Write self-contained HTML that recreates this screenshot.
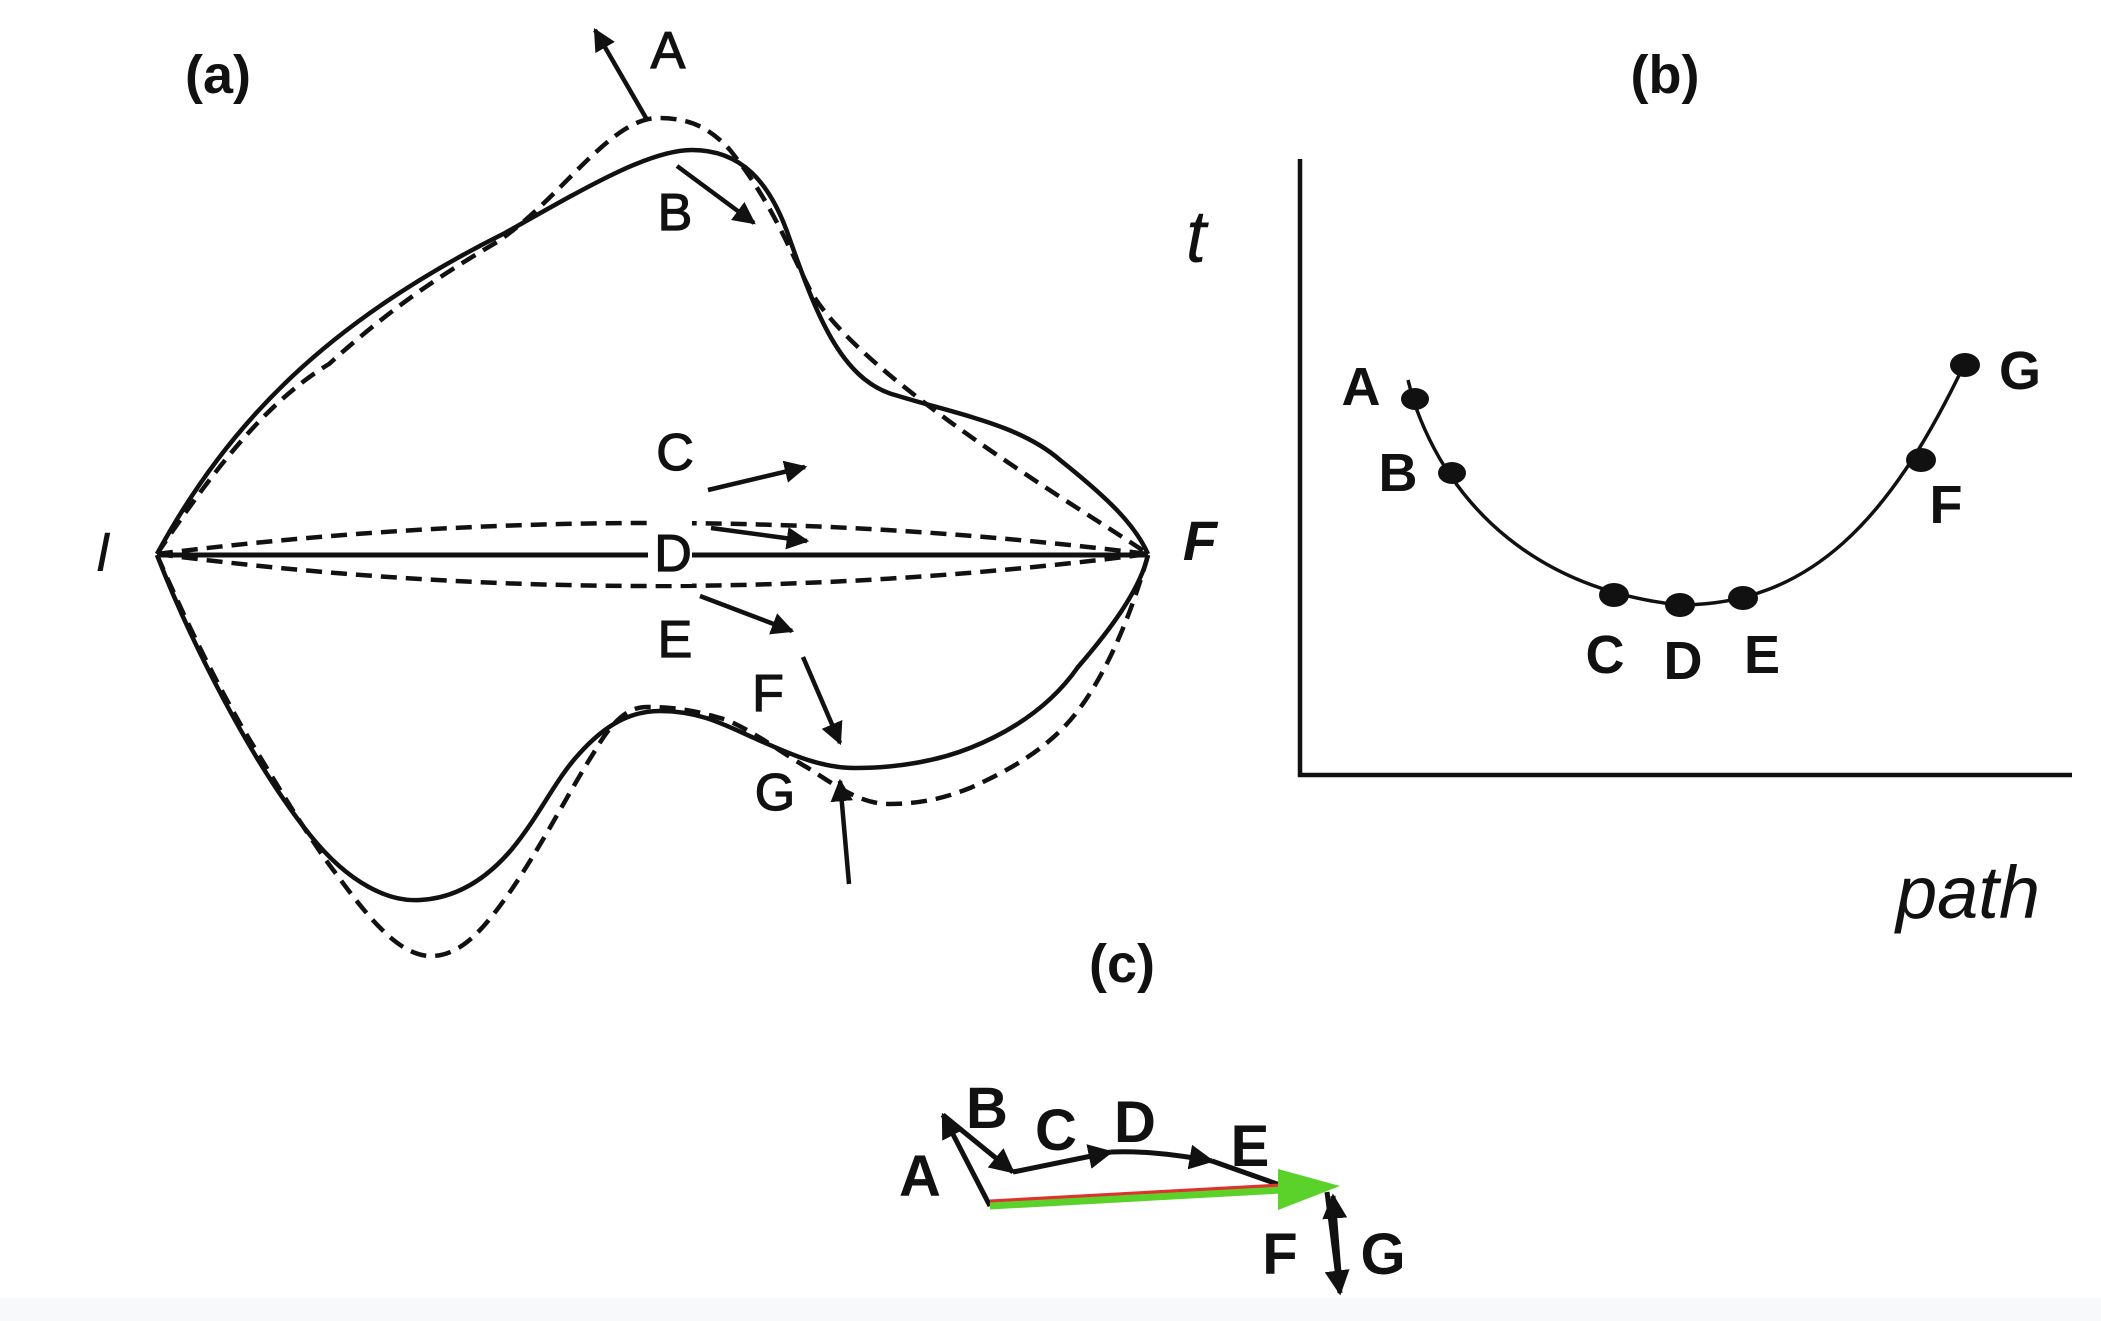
<!DOCTYPE html>
<html><head><meta charset="utf-8"><style>
html,body{margin:0;padding:0;background:#fff;}
svg{display:block;}
text{font-family:"Liberation Sans",Arial,sans-serif;fill:#111;}
</style></head><body>
<svg width="2101" height="1321" viewBox="0 0 2101 1321" xmlns="http://www.w3.org/2000/svg">
<defs>
<marker id="ah" viewBox="0 0 10 10" refX="9" refY="5" markerWidth="5" markerHeight="5" orient="auto-start-reverse"><path d="M0,0 L10,5 L0,10 z" fill="#111"/></marker>
</defs>
<rect x="0" y="1298" width="2101" height="23" fill="#f7f9fa"/>
<!-- Panel a -->
<text x="218" y="93" font-size="54" font-weight="bold" text-anchor="middle">(a)</text>
<text x="103" y="571" font-size="56" font-style="italic" text-anchor="middle">I</text>
<text x="1200" y="560" font-size="56" font-style="italic" font-weight="bold" text-anchor="middle">F</text>
<g fill="none" stroke="#111" stroke-width="4.5">
<path d="M157,554 C230,420 330,320 505,233 C590,185 650,150 692,150 C740,150 770,180 790,240 C815,310 840,380 895,395 C960,415 1020,425 1060,460 C1110,500 1135,525 1148,554"/>
<path d="M157,555 C190,640 250,760 310,835 C350,885 390,902 420,900 C460,898 490,875 512,849 C540,815 555,780 579,754 C605,725 630,711 660,711 C700,711 725,725 754,738 C790,754 820,768 855,768 C900,768 940,760 970,748 C1020,728 1055,700 1078,667 C1110,630 1140,590 1148,555"/>
<path d="M157,555 L1148,555" stroke-width="5"/>
</g>
<g fill="none" stroke="#111" stroke-width="4.5" stroke-dasharray="16,9">
<path d="M157,554 C220,460 270,400 329,364 C400,300 450,270 497,242 C560,200 610,118 658,118 C690,118 710,128 730,150 C770,200 785,240 810,290 C860,380 1100,520 1148,554"/>
<path d="M157,555 C190,630 215,680 242,727 C280,790 310,840 337,875 C370,920 400,956 431,956 C465,956 490,920 512,889 C545,840 570,790 593,754 C610,725 625,707 647,707 C680,707 700,712 727,720 C760,735 780,752 808,768 C835,785 860,804 889,804 C920,804 945,798 970,788 C1010,770 1040,752 1064,727 C1100,690 1130,620 1148,555"/>
<path d="M157,554 Q650,492 1148,554"/>
<path d="M157,554 Q650,618 1148,554"/>
</g>
<g stroke="#111" stroke-width="4.5" marker-end="url(#ah)">
<line x1="646" y1="118" x2="595" y2="30"/>
<line x1="677" y1="166" x2="754" y2="223"/>
<line x1="708" y1="490" x2="805" y2="467"/>
<line x1="711" y1="528" x2="807" y2="541"/>
<line x1="700" y1="596" x2="792" y2="631"/>
<line x1="803" y1="657" x2="840" y2="743"/>
<line x1="849" y1="884" x2="840" y2="781"/>
</g>
<rect x="648" y="520" width="44" height="64" fill="#fff"/>
<g font-size="52" text-anchor="middle" stroke="#111" stroke-width="1.2">
<text x="668" y="68">A</text>
<text x="675" y="230">B</text>
<text x="675" y="470">C</text>
<text x="673" y="571">D</text>
<text x="675" y="657">E</text>
<text x="768" y="711">F</text>
<text x="775" y="810">G</text>
</g>
<!-- Panel b -->
<text x="1665" y="93" font-size="54" font-weight="bold" text-anchor="middle">(b)</text>
<text x="1196" y="262" font-size="74" font-style="italic" text-anchor="middle">t</text>
<text x="1968" y="918" font-size="74" font-style="italic" text-anchor="middle">path</text>
<path d="M1300,159 L1300,775 L2072,775" fill="none" stroke="#111" stroke-width="4.5"/>
<path d="M1408,380 L1413,399 C1450,510 1540,590 1680,605 C1810,605 1890,520 1964,365" fill="none" stroke="#111" stroke-width="3.5"/>
<g fill="#111">
<ellipse cx="1415" cy="399" rx="14" ry="11"/>
<ellipse cx="1452" cy="473" rx="14" ry="11"/>
<ellipse cx="1614" cy="595" rx="15" ry="12"/>
<ellipse cx="1680" cy="605" rx="15" ry="12"/>
<ellipse cx="1743" cy="598" rx="15" ry="12"/>
<ellipse cx="1921" cy="460" rx="15" ry="12"/>
<ellipse cx="1965" cy="365" rx="15" ry="12"/>
</g>
<g font-size="54" font-weight="bold" text-anchor="middle">
<text x="1361" y="405">A</text>
<text x="1398" y="491">B</text>
<text x="1605" y="673">C</text>
<text x="1683" y="679">D</text>
<text x="1762" y="673">E</text>
<text x="1946" y="523">F</text>
<text x="2020" y="389">G</text>
</g>
<!-- Panel c -->
<text x="1122" y="982" font-size="54" font-weight="bold" text-anchor="middle">(c)</text>
<g stroke="#111" stroke-width="5" fill="none">
<line x1="990" y1="1206" x2="943" y2="1115" marker-end="url(#ah)"/>
<line x1="943" y1="1115" x2="1013" y2="1172" marker-end="url(#ah)"/>
<line x1="1013" y1="1172" x2="1111" y2="1152" marker-end="url(#ah)"/>
<path d="M1111,1152 Q1150,1150 1212,1161" marker-end="url(#ah)"/>
<line x1="1212" y1="1161" x2="1280" y2="1185"/>
<line x1="1327" y1="1192" x2="1340" y2="1293" marker-end="url(#ah)"/>
<line x1="1340" y1="1286" x2="1333" y2="1196" marker-end="url(#ah)"/>
</g>
<line x1="990" y1="1204" x2="1280" y2="1188" stroke="#e03030" stroke-width="9"/>
<line x1="990" y1="1206" x2="1282" y2="1190" stroke="#5ad22a" stroke-width="7"/>
<polygon points="1278,1169 1340,1186 1278,1210" fill="#5ad22a"/>
<g font-size="58" font-weight="bold" text-anchor="middle">
<text x="920" y="1196">A</text>
<text x="987" y="1128">B</text>
<text x="1056" y="1150">C</text>
<text x="1135" y="1142">D</text>
<text x="1250" y="1166">E</text>
<text x="1280" y="1274">F</text>
<text x="1383" y="1274">G</text>
</g>
</svg>
</body></html>
